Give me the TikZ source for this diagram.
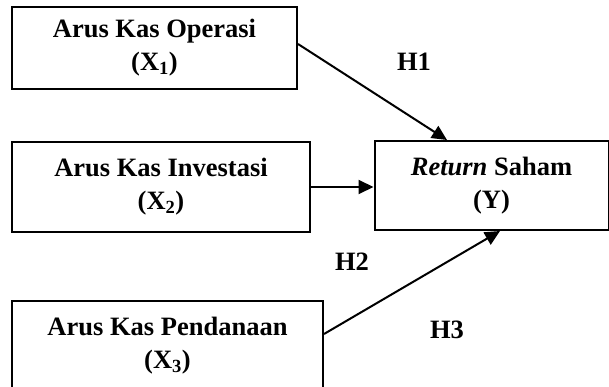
\documentclass[tikz,border=0pt]{standalone}
\usepackage{fontspec}
\setmainfont{Liberation Serif}
\usetikzlibrary{arrows.meta}
\begin{document}
\begin{tikzpicture}[x=1pt,y=-1pt,
  box/.style={draw, line width=2pt, align=center, inner sep=0pt,
    font=\fontsize{26.5}{33}\selectfont\bfseries},
  hyp/.style={font=\fontsize{26.5}{33}\selectfont\bfseries, inner sep=0pt},
  arr/.style={line width=2pt, -{Triangle[length=15pt,width=14pt]}}]
\useasboundingbox (0,0) rectangle (609,387);
\clip (0,0) rectangle (609,387);
\node[box, minimum width=285pt, minimum height=82pt] (b1) at (154.5,48) {Arus Kas Operasi\\(X\textsubscript{1})};
\node[box, minimum width=298pt, minimum height=90pt] (b2) at (161,187) {Arus Kas Investasi\\(X\textsubscript{2})};
\node[box, minimum width=311pt, minimum height=90pt] (b3) at (167.5,346) {Arus Kas Pendanaan\\(X\textsubscript{3})};
\node[box, minimum width=234pt, minimum height=89pt] (y) at (491.5,185.5) {\textit{Return} Saham\\(Y)};
\node[hyp] (h1) at (414,62) {H1};
\node[hyp] (h2) at (352,262) {H2};
\node[hyp] (h3) at (447,330) {H3};
\draw[arr] ([yshift=4pt]b1.east) -- ([xshift=-44.5pt]y.north);
\draw[arr] (b2.east) -- (b2.east -| y.west);
\draw[arr] ([yshift=12pt]b3.east) -- ([xshift=8.5pt]y.south);
\end{tikzpicture}
\end{document}
